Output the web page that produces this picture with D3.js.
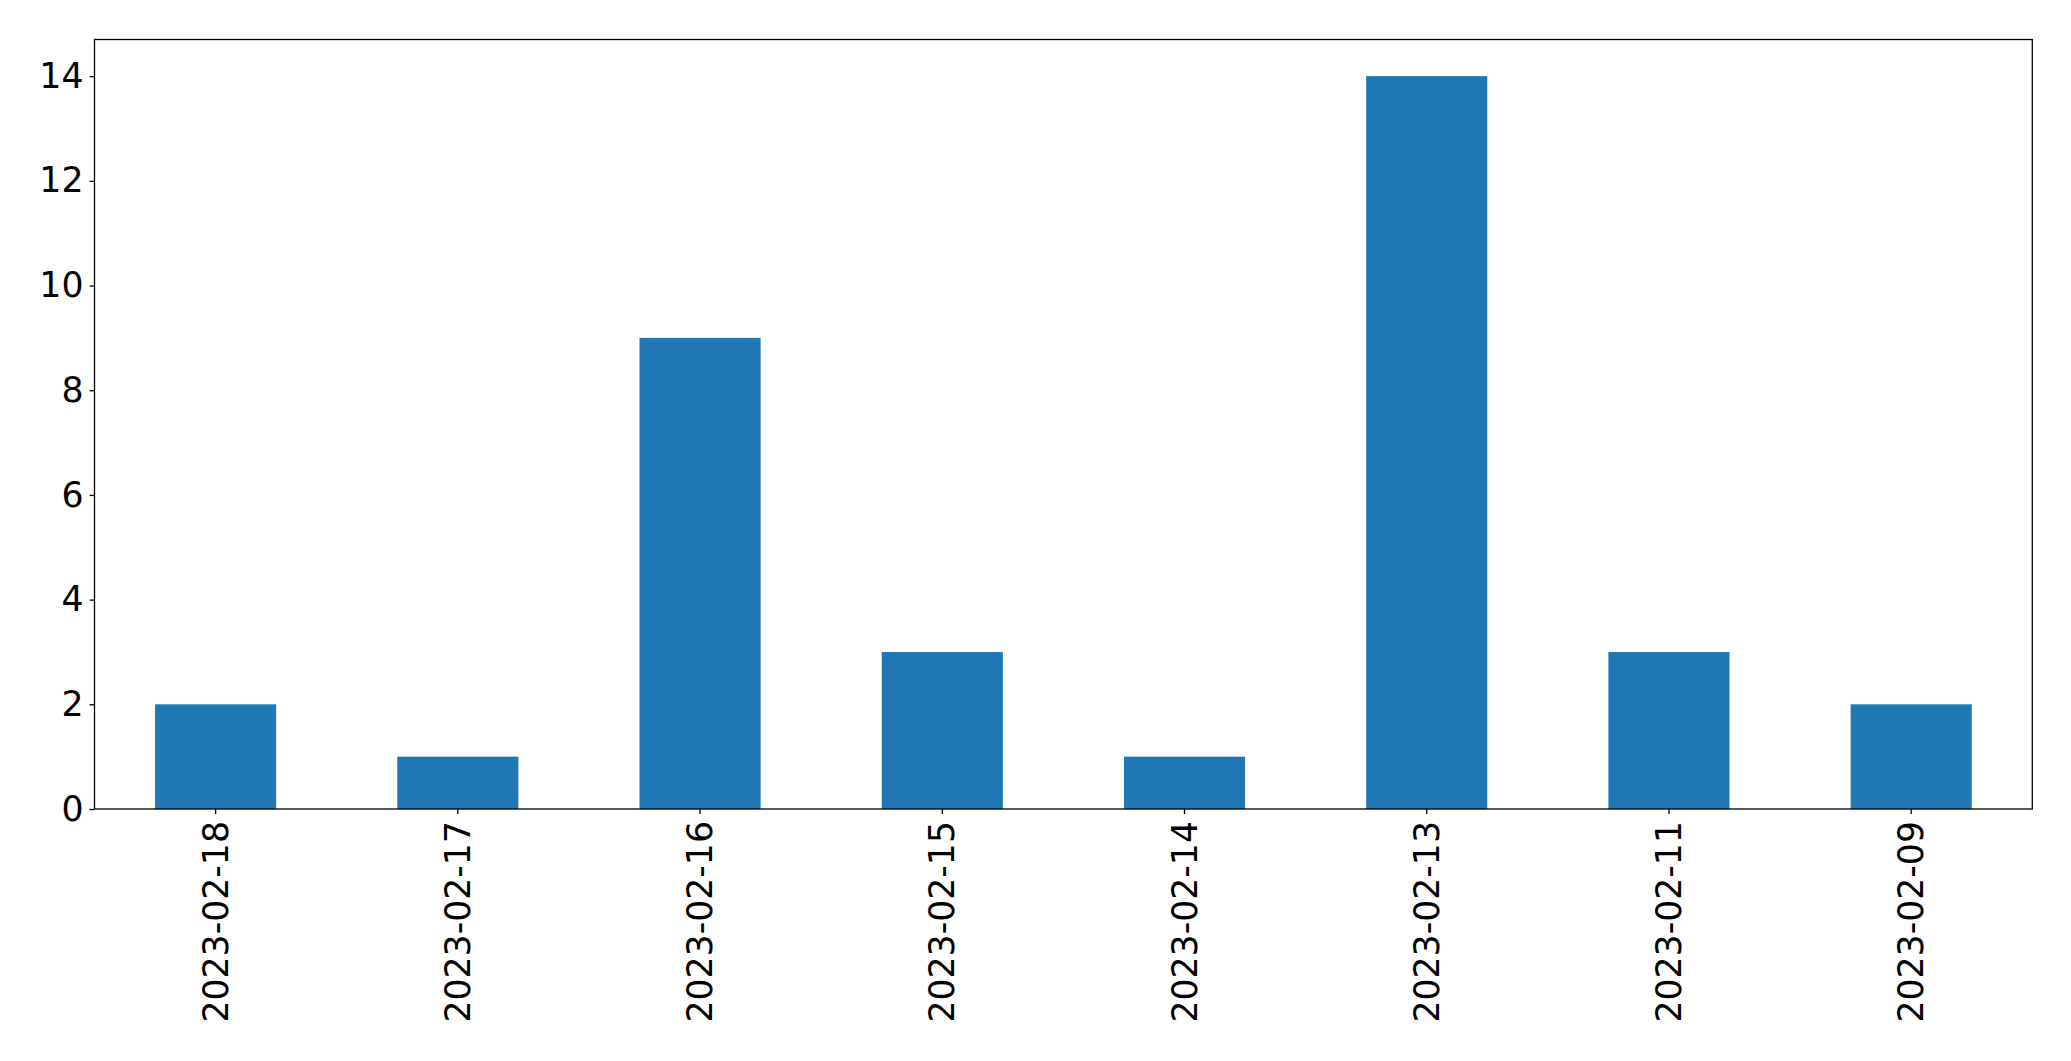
<!DOCTYPE html>
<html>
<head>
<meta charset="utf-8">
<script src="https://cdn.jsdelivr.net/npm/d3@7"></script>
<style>
html, body { margin: 0; padding: 0; background: #fff; }
svg { display: block; }
text { font-family: "DejaVu Sans", sans-serif; fill: #000; }
</style>
</head>
<body>
<script>
const categories = ["2023-02-18", "2023-02-17", "2023-02-16", "2023-02-15", "2023-02-14", "2023-02-13", "2023-02-11", "2023-02-09"];
const values = [2, 1, 9, 3, 1, 14, 3, 2];
const yTicks = [0, 2, 4, 6, 8, 10, 12, 14];

const W = 2071, H = 1061;
const m = { left: 94.5, top: 39.5, right: W - 2032.3, bottom: H - 809 };
const iw = W - m.left - m.right, ih = H - m.top - m.bottom;
const fs = 34.7;
const tickLen = 5;

const svg = d3.select("body").append("svg").attr("width", W).attr("height", H);
const g = svg.append("g").attr("transform", `translate(${m.left},${m.top})`);

const x = d3.scaleBand().domain(categories).range([0, iw]).paddingInner(0.5).paddingOuter(0.25);
const y = d3.scaleLinear().domain([0, 14.7]).range([ih, 0]);

g.selectAll("rect.bar").data(values).join("rect")
  .attr("class", "bar")
  .attr("x", (d, i) => x(categories[i]))
  .attr("width", x.bandwidth())
  .attr("y", d => y(d))
  .attr("height", d => y(0) - y(d))
  .attr("fill", "#1f77b4");

const yAxis = g.append("g").call(d3.axisLeft(y).tickValues(yTicks).tickFormat(d3.format("d")).tickSize(tickLen).tickPadding(6));
yAxis.select(".domain").remove();
yAxis.selectAll("line").attr("stroke", "#000").attr("stroke-width", 1.3);
yAxis.selectAll("text").style("font-size", fs + "px").attr("font-family", "DejaVu Sans");

const xAxis = g.append("g").attr("transform", `translate(0,${ih})`)
  .call(d3.axisBottom(x).tickSize(tickLen).tickPadding(0));
xAxis.select(".domain").remove();
xAxis.selectAll("line").attr("stroke", "#000").attr("stroke-width", 1.3);
xAxis.selectAll("text")
  .style("font-size", fs + "px").attr("font-family", "DejaVu Sans")
  .attr("text-anchor", "end")
  .attr("dy", "0.35em")
  .attr("transform", "translate(0," + (tickLen + 7) + ") rotate(-90)")
  .attr("x", 0).attr("y", 0);

g.append("rect").attr("x", 0).attr("y", 0).attr("width", iw).attr("height", ih)
  .attr("fill", "none").attr("stroke", "#000").attr("stroke-width", 1.3);
</script>
</body>
</html>
